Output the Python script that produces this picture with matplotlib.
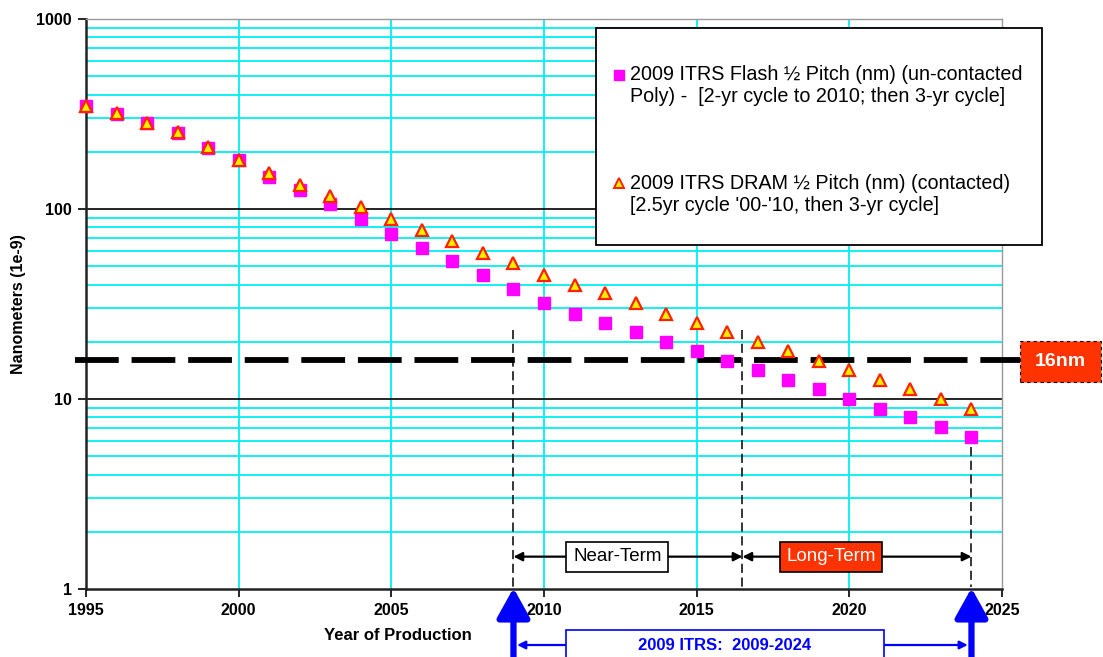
import matplotlib.pyplot as plt
from matplotlib.patches import Rectangle, FancyArrowPatch
from matplotlib.lines import Line2D
from matplotlib.transforms import blended_transform_factory
from matplotlib.ticker import FixedLocator, NullFormatter

plt.rcParams['font.family'] = ['Liberation Sans', 'DejaVu Sans']

# data
years = list(range(1995, 2025))
flash_nm = [350, 318, 285, 252, 210, 180, 148, 126, 106, 89,
            74, 62, 53, 45, 38, 32, 28, 25, 22.5, 20,
            17.9, 15.9, 14.2, 12.6, 11.3, 10.0, 8.9, 8.0, 7.1, 6.3]
dram_nm = [350, 320, 285, 255, 212, 180, 155, 134, 117, 102,
           89, 78, 68, 59, 52, 45, 40, 36, 32, 28,
           25, 22.5, 20, 17.9, 15.9, 14.2, 12.6, 11.3, 10.0, 8.9]

flash_label = "2009 ITRS Flash \u00bd Pitch (nm) (un-contacted\nPoly) -  [2-yr cycle to 2010; then 3-yr cycle]"
dram_label = "2009 ITRS DRAM \u00bd Pitch (nm) (contacted)\n[2.5yr cycle '00-'10, then 3-yr cycle]"

target_nm = 16
near_start, near_end, long_end = 2009, 2016.5, 2024

W, H = 1103, 657
fig = plt.figure(figsize=(W / 100, H / 100), dpi=100)
ax = fig.add_axes([86 / W, 1 - 589 / H, (1002 - 86) / W, (589 - 19) / H])

ax.set_yscale('log')
ax.set_xlim(1995, 2025)
ax.set_ylim(1, 1000)

# grid
for x in [2000, 2005, 2010, 2015, 2020]:
    ax.axvline(x, color='#00f0f0', lw=1.3, zorder=1)
for dec in [1, 10, 100]:
    for m in range(2, 10):
        ax.axhline(dec * m, color='#00f0f0', lw=1.3, zorder=1)
for y in [10, 100]:
    ax.axhline(y, color='black', lw=1.2, zorder=1.2)

ax.xaxis.set_major_locator(FixedLocator([1995, 2000, 2005, 2010, 2015, 2020, 2025]))
ax.yaxis.set_major_locator(FixedLocator([1, 10, 100, 1000]))
ax.yaxis.set_minor_locator(FixedLocator([]))
ax.yaxis.set_minor_formatter(NullFormatter())
ax.set_yticklabels(['1', '10', '100', '1000'])
ax.tick_params(axis='both', direction='out', length=6, width=1.2, labelsize=11.5)
for lab in ax.get_xticklabels() + ax.get_yticklabels():
    lab.set_fontweight('bold')
ax.tick_params(axis='x', pad=4)
ax.tick_params(axis='y', pad=4)

for s in ['left', 'bottom']:
    ax.spines[s].set_color('#222222')
    ax.spines[s].set_linewidth(1.8)
for s in ['top', 'right']:
    ax.spines[s].set_color('#999999')
    ax.spines[s].set_linewidth(1.0)

# data
ax.plot(years, flash_nm, 's', color='#ff00ff', ms=8, mec='#ff00ff', zorder=4, clip_on=False)
ax.plot(years, dram_nm, '^', mfc='#ffee00', mec='#ff2200', mew=1.6, ms=8, zorder=5, clip_on=False)

# 16nm line
ax.axhline(target_nm, xmin=-0.012, xmax=1.02, color='black', lw=4.2,
           dashes=(7.5, 2.2), clip_on=False, zorder=3)
fig.patches.append(Rectangle((1020 / W, 1 - 382 / H), 81 / W, 41 / H, transform=fig.transFigure,
                             fc='#ff3300', ec='black', lw=0.8, ls=(0, (3, 3)), figure=fig))
fig.text(1060 / W, 1 - 361 / H, '16nm', color='white', fontsize=14, fontweight='bold',
         ha='center', va='center')

# vertical dashed markers
ax.plot([near_start, near_start], [23, 1.02], color='black', lw=1.1, dashes=(6, 3), zorder=3)
ax.plot([near_end, near_end], [23, 1.02], color='black', lw=1.1, dashes=(6, 3), zorder=3)
ax.plot([long_end, long_end], [5.6, 1.02], color='black', lw=1.1, dashes=(6, 3), zorder=3)

# near / long term arrows
arr_y = 1.48
ax.annotate('', xy=(near_start, arr_y), xytext=(near_end, arr_y),
            arrowprops=dict(arrowstyle='<|-|>', color='black', lw=1.6, shrinkA=0, shrinkB=0,
                            mutation_scale=13), zorder=3)
ax.annotate('', xy=(near_end, arr_y), xytext=(long_end, arr_y),
            arrowprops=dict(arrowstyle='<|-|>', color='black', lw=1.6, shrinkA=0, shrinkB=0,
                            mutation_scale=13), zorder=3)
ax.text(2012.4, arr_y, 'Near-Term', ha='center', va='center', fontsize=13.5, zorder=6,
        bbox=dict(boxstyle='square,pad=0.35', fc='white', ec='black', lw=1.2))
ax.text(2019.4, arr_y, 'Long-Term', ha='center', va='center', fontsize=13.5, color='white', zorder=6,
        bbox=dict(boxstyle='square,pad=0.35', fc='#ff3300', ec='black', lw=1.2))

# legend box drawn by hand
fig.patches.append(Rectangle((596 / W, 1 - 245 / H), 446 / W, 217 / H, transform=fig.transFigure,
                             fc='white', ec='black', lw=1.3, zorder=10, figure=fig))
fig.add_artist(Line2D([619 / W], [1 - 75 / H], marker='s', color='#ff00ff', ms=7.5,
                      transform=fig.transFigure, zorder=11))
fig.add_artist(Line2D([619 / W], [1 - 183 / H], marker='^', mfc='#ffee00', mec='#ff2200',
                      mew=1.4, ms=7, transform=fig.transFigure, zorder=11))
fig.text(630 / W, 1 - 85 / H, flash_label, fontsize=14.2, va='center', ha='left',
         linespacing=1.2, zorder=11)
fig.text(630 / W, 1 - 194.5 / H, dram_label, fontsize=14.2, va='center', ha='left',
         linespacing=1.2, zorder=11)

# axis titles
fig.text(398 / W, 1 - 636 / H, 'Year of Production', fontsize=12, fontweight='bold',
         ha='center', va='center')
fig.text(19 / W, 1 - 304 / H, 'Nanometers (1e-9)', fontsize=11.5, fontweight='bold',
         rotation=90, ha='center', va='center')

# blue ITRS range arrows below the axis
bt = blended_transform_factory(ax.transData, fig.transFigure)
for x in [near_start, long_end]:
    fig.add_artist(FancyArrowPatch((x, -0.01), (x, 1 - 588 / H), transform=bt,
                                   arrowstyle='-|>,head_width=0.5,head_length=0.9',
                                   mutation_scale=20, color='#0000ff', lw=4.5,
                                   shrinkA=0, shrinkB=0))
fig.add_artist(FancyArrowPatch((near_start + 0.12, 1 - 645 / H), (long_end - 0.12, 1 - 645 / H),
                               transform=bt, arrowstyle='<|-|>', mutation_scale=12,
                               color='#0000ff', lw=1.6, shrinkA=0, shrinkB=0))
fig.patches.append(Rectangle((566 / W, -0.03), 318 / W, (0.03 + 1 - 630 / H),
                             transform=fig.transFigure, fc='white', ec='#0000ff', lw=1.2,
                             zorder=5, figure=fig))
fig.text(725 / W, 1 - 645 / H, '2009 ITRS:  2009-2024', color='#0000ff', fontsize=12,
         fontweight='bold', ha='center', va='center', zorder=6)

fig.savefig('out.png', dpi=100)
